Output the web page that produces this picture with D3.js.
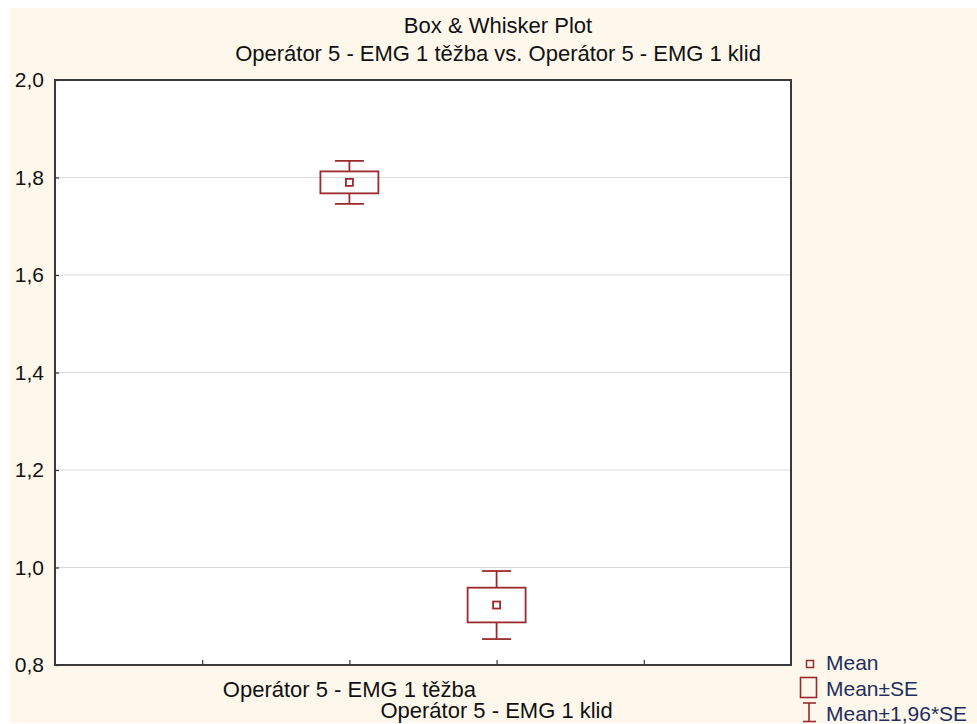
<!DOCTYPE html>
<html>
<head>
<meta charset="utf-8">
<script src="https://cdn.jsdelivr.net/npm/d3@7"></script>
<style>
  html, body { margin: 0; padding: 0; background: #ffffff; }
  svg { display: block; }
  text { font-family: "Liberation Sans", Arial, sans-serif; }
</style>
</head>
<body>
<svg id="chart" width="977" height="724"></svg>
<script>
// Data: two variables, each summarised by its mean and standard error
const categories = ["Operátor 5 - EMG 1 těžba", "Operátor 5 - EMG 1 klid"];
const categoryPositions = [2, 3];
const means = [1.790, 0.923];
const standardErrors = [0.0225, 0.0356];
const whiskerFactor = 1.96;
const yTicks = [0.8, 1.0, 1.2, 1.4, 1.6, 1.8, 2.0];
const xTicks = [1, 2, 3, 4];
const titleLines = ["Box & Whisker Plot", "Operátor 5 - EMG 1 těžba vs. Operátor 5 - EMG 1 klid"];
const legendLabels = ["Mean", "Mean±SE", "Mean±1,96*SE"];

const W = 977, H = 724;
const plot = { left: 55, top: 80, right: 791, bottom: 665 };
const markColor = "#9c2a2c";
const fontSize = 21;

const svg = d3.select("#chart");

// page background
svg.append("rect").attr("x", 10).attr("y", 8).attr("width", W - 10).attr("height", H - 9)
  .attr("fill", "#fef8ec");

const x = d3.scaleLinear().domain([0, 5]).range([plot.left, plot.right]);
const y = d3.scaleLinear().domain([0.8, 2.0]).range([plot.bottom, plot.top]);

// plot area
svg.append("rect")
  .attr("x", plot.left).attr("y", plot.top)
  .attr("width", plot.right - plot.left).attr("height", plot.bottom - plot.top)
  .attr("fill", "#ffffff");

// horizontal grid
svg.append("g").selectAll("line")
  .data(yTicks.filter(v => v > 0.8 && v < 2.0))
  .join("line")
  .attr("x1", plot.left).attr("x2", plot.right)
  .attr("y1", d => y(d)).attr("y2", d => y(d))
  .attr("stroke", "#d9d9d9").attr("stroke-width", 1.2);

// y axis
const fmt = d => d3.format(".1f")(d).replace(".", ",");
const yAxis = svg.append("g")
  .attr("transform", `translate(${plot.left},0)`)
  .call(d3.axisLeft(y).tickValues(yTicks).tickFormat(fmt).tickSize(-4).tickPadding(11));
yAxis.select(".domain").remove();
yAxis.selectAll(".tick line").attr("stroke", "#333").attr("stroke-width", 1.2);
yAxis.selectAll(".tick text").attr("fill", "#111").style("font-size", fontSize + "px")
  .attr("font-family", "Liberation Sans, Arial, sans-serif");

// x axis ticks
const xAxis = svg.append("g")
  .attr("transform", `translate(0,${plot.bottom})`)
  .call(d3.axisBottom(x).tickValues(xTicks).tickSize(-5).tickFormat(""));
xAxis.select(".domain").remove();
xAxis.selectAll(".tick line").attr("stroke", "#333").attr("stroke-width", 1.2);

// category labels, staggered on two rows
svg.append("g").selectAll("text")
  .data(categories)
  .join("text")
  .attr("x", (d, i) => x(categoryPositions[i]))
  .attr("y", (d, i) => plot.bottom + 32 + i * 21)
  .attr("text-anchor", "middle")
  .attr("fill", "#111")
  .style("font-size", "22px")
  .text(d => d);

// frame
svg.append("rect")
  .attr("x", plot.left).attr("y", plot.top)
  .attr("width", plot.right - plot.left).attr("height", plot.bottom - plot.top)
  .attr("fill", "none").attr("stroke", "#3a3a3a").attr("stroke-width", 2);

// boxes and whiskers
const boxW = 58, capW = 29, meanS = 7;
const g = svg.append("g").attr("stroke", markColor).attr("stroke-width", 1.8).attr("fill", "none");
categories.forEach((c, i) => {
  const cx = x(categoryPositions[i]);
  const m = means[i], se = standardErrors[i];
  const wLo = y(m - whiskerFactor * se), wHi = y(m + whiskerFactor * se);
  const bLo = y(m - se), bHi = y(m + se);
  g.append("line").attr("x1", cx).attr("x2", cx).attr("y1", wHi).attr("y2", bHi);
  g.append("line").attr("x1", cx).attr("x2", cx).attr("y1", bLo).attr("y2", wLo);
  g.append("line").attr("x1", cx - capW / 2).attr("x2", cx + capW / 2).attr("y1", wHi).attr("y2", wHi);
  g.append("line").attr("x1", cx - capW / 2).attr("x2", cx + capW / 2).attr("y1", wLo).attr("y2", wLo);
  g.append("rect").attr("x", cx - boxW / 2).attr("y", bHi).attr("width", boxW).attr("height", bLo - bHi);
  g.append("rect").attr("x", cx - meanS / 2).attr("y", y(m) - meanS / 2).attr("width", meanS).attr("height", meanS);
});

// titles
svg.append("g").selectAll("text")
  .data(titleLines)
  .join("text")
  .attr("x", 498)
  .attr("y", (d, i) => 33 + i * 28)
  .attr("text-anchor", "middle")
  .attr("fill", "#111")
  .style("font-size", "22px")
  .text(d => d);

// legend
const lg = svg.append("g");
const lgText = "#1f2e5c";
const lx = 826;
lg.append("rect").attr("x", 806.5).attr("y", 660.5).attr("width", 7).attr("height", 7)
  .attr("fill", "none").attr("stroke", markColor).attr("stroke-width", 1.5);
lg.append("rect").attr("x", 800.5).attr("y", 677.5).attr("width", 16).attr("height", 20)
  .attr("fill", "none").attr("stroke", markColor).attr("stroke-width", 1.6);
lg.append("line").attr("x1", 809).attr("x2", 809).attr("y1", 703).attr("y2", 722)
  .attr("stroke", markColor).attr("stroke-width", 1.6);
lg.append("line").attr("x1", 803).attr("x2", 816).attr("y1", 703).attr("y2", 703)
  .attr("stroke", markColor).attr("stroke-width", 1.6);
lg.append("line").attr("x1", 803).attr("x2", 816).attr("y1", 721.5).attr("y2", 721.5)
  .attr("stroke", markColor).attr("stroke-width", 1.6);
lg.selectAll("text")
  .data(legendLabels)
  .join("text")
  .attr("x", lx)
  .attr("y", (d, i) => 670 + i * 25.5)
  .attr("fill", lgText)
  .style("font-size", fontSize + "px")
  .text(d => d);
</script>
</body>
</html>
